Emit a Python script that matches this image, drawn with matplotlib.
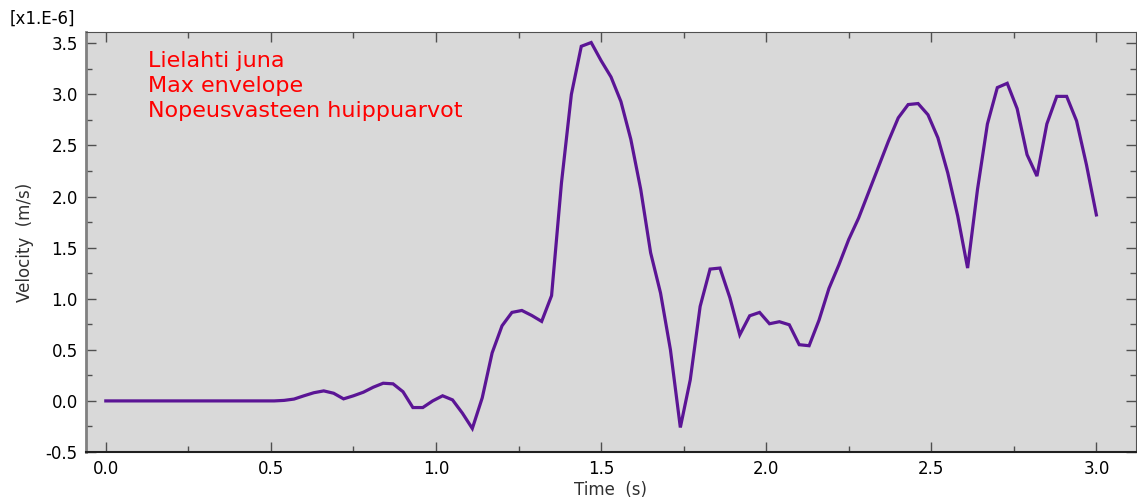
import numpy as np
import matplotlib
matplotlib.use("Agg")
import matplotlib.pyplot as plt
from matplotlib.ticker import MultipleLocator

# time in s, velocity in 1e-6 m/s (0.03 s step)
time = [round(0.03 * k, 2) for k in range(101)]
velocity = [0.0] * 17 + [
    0.0, 0.005, 0.018, 0.05, 0.08, 0.098, 0.075, 0.02, 0.05, 0.085,
    0.134, 0.173, 0.167, 0.09, -0.065, -0.065, 0.0, 0.05, 0.01, -0.12,
    -0.27, 0.03, 0.47, 0.735, 0.866, 0.885, 0.836, 0.778, 1.03, 2.134,
    3.0, 3.47, 3.507, 3.33, 3.17, 2.93, 2.56, 2.07, 1.45, 1.056,
    0.5, -0.26, 0.206, 0.925, 1.29, 1.30, 1.01, 0.647, 0.833, 0.866,
    0.755, 0.775, 0.745, 0.55, 0.54, 0.79, 1.10, 1.33, 1.58, 1.79,
    2.04, 2.29, 2.54, 2.77, 2.90, 2.91, 2.80, 2.575, 2.23, 1.81,
    1.30, 2.07, 2.71, 3.066, 3.108, 2.86, 2.41, 2.20, 2.71, 2.98,
    2.98, 2.74, 2.31, 1.82,
]
notes = ["Lielahti juna", "Max envelope", "Nopeusvasteen huippuarvot"]

fig = plt.figure(figsize=(11.37, 5.01), dpi=100)
ax = fig.add_axes([86 / 1137, 49 / 501, 1050 / 1137, 420 / 501])
ax.set_facecolor("#d9d9d9")

ax.plot(time, velocity, color="#5b1595", lw=2.3, solid_joinstyle="miter")

ax.set_xlim(-0.06, 3.12)
ax.set_ylim(-0.5, 3.61)
ax.xaxis.set_major_locator(MultipleLocator(0.5))
ax.xaxis.set_minor_locator(MultipleLocator(0.25))
ax.yaxis.set_major_locator(MultipleLocator(0.5))
ax.yaxis.set_minor_locator(MultipleLocator(0.25))
ax.xaxis.set_major_formatter(lambda v, p: "%.1f" % v)
ax.yaxis.set_major_formatter(lambda v, p: "%.1f" % v)

ax.tick_params(which="both", direction="in", top=True, right=True,
               labelsize=12, colors="#505050", labelcolor="black")
ax.tick_params(which="major", length=7, width=1, pad=6)
ax.tick_params(which="minor", length=4, width=1)

ax.spines["left"].set_color("#808080")
ax.spines["left"].set_linewidth(2)
ax.spines["bottom"].set_color("#202020")
ax.spines["bottom"].set_linewidth(1.5)
for s in ["top", "right"]:
    ax.spines[s].set_color("#505050")
    ax.spines[s].set_linewidth(0.8)

ax.set_xlabel("Time  (s)", fontsize=12, color="#303030", labelpad=2)
ax.set_ylabel("Velocity  (m/s)", fontsize=12, color="#303030", labelpad=8)

fig.text(10 / 1137, 1 - 24 / 501, "[x1.E-6]", fontsize=12, color="black")

for i, s in enumerate(notes):
    fig.text(148 / 1137, 1 - (67 + 25 * i) / 501, s, fontsize=16,
             color="#ff0000", va="baseline")

fig.savefig("out.png", dpi=100)
